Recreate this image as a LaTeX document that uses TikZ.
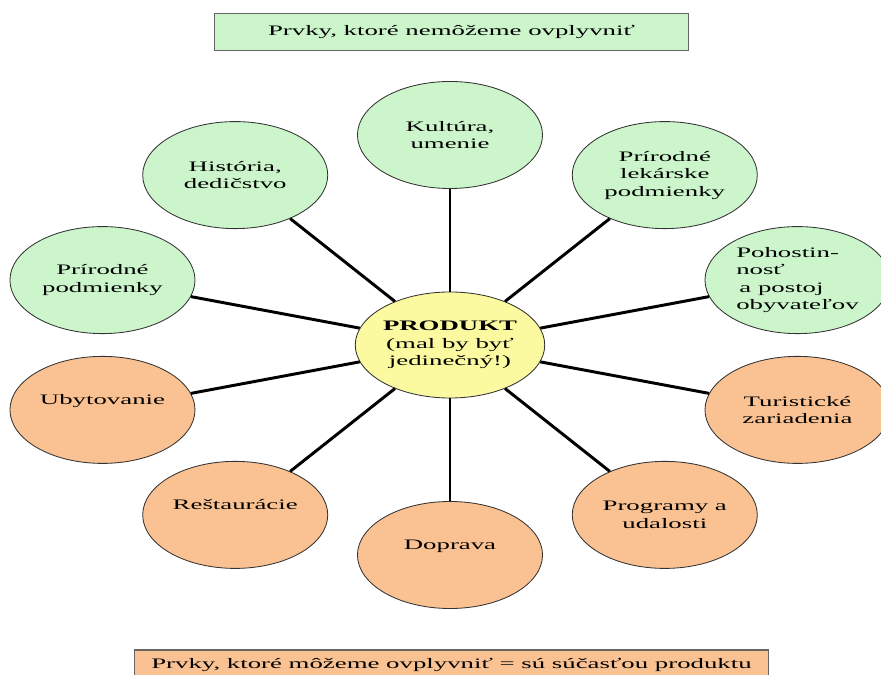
\documentclass[tikz,border=0pt]{standalone}
\usepackage{fontspec}
\setmainfont{Liberation Serif}[FakeStretch=1.85]
\usepackage{tikz}
\usetikzlibrary{shapes.geometric}

\definecolor{zelena}{RGB}{204,245,204}
\definecolor{oranzova}{RGB}{250,194,146}
\definecolor{zlta}{RGB}{252,250,160}

\begin{document}
\begin{tikzpicture}[x=0.025cm, y=0.025cm,
		font=\fontsize{10.3}{12.4}\selectfont,
		prvok/.style={ellipse, draw=black!80, line width=0.6pt, inner sep=0pt, align=center,
			minimum width=4.625cm, minimum height=2.675cm},
		hrana/.style={line width=2.1pt},
		pas/.style={rectangle, draw=black!60, line width=0.8pt, minimum height=0.93cm}]
			\useasboundingbox (-450,-330) rectangle (431,345);
			% Nodes
			\node[prvok, fill=zlta, minimum width=4.5cm, minimum height=2.65cm] (produkt) at (0,0)
				{\textbf{PRODUKT}\\(mal by byť\\jedinečný!)};
			\foreach \i/\farba/\txt in {0/zelena/{Kultúra,\\umenie},
				1/zelena/{História,\\dedičstvo},
				2/zelena/{Prírodné\\podmienky},
				3/oranzova/{Ubytovanie\\[2pt]\mbox{}},
				4/oranzova/{Reštaurácie\\[2pt]\mbox{}},
				5/oranzova/{Doprava\\[2pt]\mbox{}},
				6/oranzova/{Programy a\\udalosti},
				7/oranzova/{Turistické\\zariadenia},
				8/zelena/{\begin{tabular}{@{}l@{}}Pohostin-\\nosť\\\hspace{0.08cm}a postoj\\obyvateľov\end{tabular}},
				9/zelena/{Prírodné\\lekárske\\podmienky}} {
				\node[prvok, fill=\farba] (node\i) at ({1.74*210*cos(90+36*\i)}, {210*sin(90+36*\i)}) {\txt};
			}
			\node[pas, fill=zelena, minimum width=11.83cm] (nemozeme) at (1.5,313) {Prvky, ktoré nemôžeme ovplyvniť};
			\node[pas, fill=oranzova, minimum width=15.83cm, minimum height=0.75cm] (mozeme) at (1.5,-320)
				{Prvky, ktoré môžeme ovplyvniť = sú súčasťou produktu};
			% Edges
			\foreach \i in {0,...,9} {
				\draw[hrana] (produkt) -- (node\i);
			}
		\end{tikzpicture}
\end{document}
